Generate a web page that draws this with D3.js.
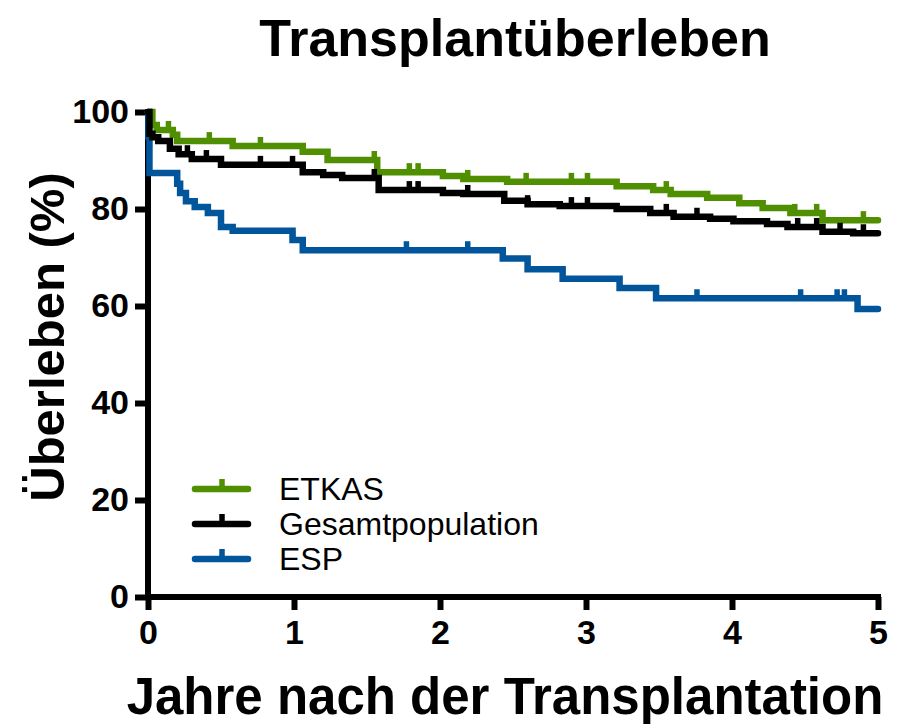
<!DOCTYPE html>
<html>
<head>
<meta charset="utf-8">
<script src="https://cdn.jsdelivr.net/npm/d3@7"></script>
<style>
  body { margin: 0; background: #fff; }
  svg { font-family: "Liberation Sans", Arial, sans-serif; }
</style>
</head>
<body>
<div id="chart"></div>
<script>
// Kaplan-Meier steps (years, survival %)
const etkasTime = [0, 0.03, 0.06, 0.17, 0.2, 0.58, 1.06, 1.23, 1.57, 2.02, 2.16, 2.46, 3.21, 3.46, 3.58, 3.83, 4.05, 4.21, 4.40, 4.62, 5.0];
const etkasSurv = [100, 97.3, 96.3, 95.3, 94.0, 93.0, 91.8, 90.1, 87.6, 86.8, 86.2, 85.6, 84.7, 83.9, 83.1, 82.3, 81.2, 80.2, 79.2, 77.7, 77.7];
const etkasCens = [0.14, 0.42, 0.77, 1.55, 1.79, 1.85, 2.19, 2.59, 2.90, 3.01, 3.55, 4.43, 4.58, 4.90];

const totalTime = [0, 0.01, 0.03, 0.07, 0.15, 0.21, 0.3, 0.5, 1.06, 1.20, 1.33, 1.58, 2.02, 2.16, 2.44, 2.60, 2.82, 3.21, 3.44, 3.60, 3.85, 4.01, 4.24, 4.38, 4.62, 4.83, 5.0];
const totalSurv = [100, 95.5, 94.8, 94.0, 92.4, 91.3, 90.3, 89.1, 87.6, 87.0, 86.4, 83.9, 83.3, 83.1, 81.7, 81.0, 80.6, 80.0, 79.2, 78.4, 78.0, 77.5, 76.9, 76.3, 75.3, 75.0, 75.0];
const totalCens = [0.27, 0.40, 0.77, 0.99, 1.55, 1.79, 1.85, 2.19, 2.60, 2.90, 3.01, 3.55, 3.76, 4.45, 4.58, 4.74, 4.90];

const espTime = [0, 0.003, 0.01, 0.2, 0.22, 0.26, 0.32, 0.41, 0.5, 0.58, 0.99, 1.06, 2.43, 2.60, 2.84, 3.23, 3.48, 4.86, 5.0];
const espSurv = [100, 95, 87.4, 85.2, 83.3, 81.6, 80.4, 79.2, 76.3, 75.5, 73.6, 71.5, 69.8, 67.6, 65.6, 63.7, 61.6, 59.4, 59.4];
const espCens = [0.99, 1.77, 2.19, 3.76, 4.47, 4.72, 4.77];

const seriesNames = ["ETKAS", "Gesamtpopulation", "ESP"];
const xTicks = [0, 1, 2, 3, 4, 5];
const yTicks = [0, 20, 40, 60, 80, 100];

const colors = { "ETKAS": "#4f8f00", "Gesamtpopulation": "#000000", "ESP": "#00559b" };

const series = [
  { name: "ETKAS", time: etkasTime, surv: etkasSurv, cens: etkasCens },
  { name: "ESP", time: espTime, surv: espSurv, cens: espCens },
  { name: "Gesamtpopulation", time: totalTime, surv: totalSurv, cens: totalCens }
];

const W = 907, H = 724;
const margin = { top: 112, right: 29, bottom: 127, left: 148 };

const svg = d3.select("#chart").append("svg")
  .attr("width", W)
  .attr("height", H);

const x = d3.scaleLinear().domain([0, 5]).range([margin.left, W - margin.right]);
const y = d3.scaleLinear().domain([0, 100]).range([H - margin.bottom, margin.top]);

// Axes
const axisW = 6;
const xAxis = svg.append("g")
  .attr("transform", `translate(0,${y(0)})`)
  .call(d3.axisBottom(x).tickValues(xTicks).tickSize(13).tickPadding(10).tickFormat(d3.format("d")));
const yAxis = svg.append("g")
  .attr("transform", `translate(${x(0)},0)`)
  .call(d3.axisLeft(y).tickValues(yTicks).tickSize(13).tickPadding(6).tickFormat(d3.format("d")));

[xAxis, yAxis].forEach(g => {
  g.select(".domain").attr("stroke", "#000").attr("stroke-width", axisW)
    .attr("stroke-linecap", "square");
  g.selectAll(".tick line").attr("stroke", "#000").attr("stroke-width", axisW);
  g.selectAll(".tick text")
    .attr("fill", "#000")
    .style("font-size", "34px")
    .style("font-weight", "bold");
});
// domain path has outer ticks at 0 by default; remove them
xAxis.select(".domain").attr("d", `M${x(0)},0H${x(5)}`);
yAxis.select(".domain").attr("d", `M0,${y(0)}V${y(100)}`);
xAxis.selectAll(".tick text").attr("dy", "0.7em");

// Curves
const line = d3.line()
  .x(d => x(d[0]))
  .y(d => y(d[1]))
  .curve(d3.curveStepAfter);

const survAt = (s, t) => {
  let v = s.surv[0];
  for (let i = 0; i < s.time.length; i++) if (s.time[i] <= t) v = s.surv[i];
  return v;
};

series.forEach(s => {
  const pts = s.time.map((t, i) => [t, s.surv[i]]);
  svg.append("path")
    .datum(pts)
    .attr("fill", "none")
    .attr("stroke", colors[s.name])
    .attr("stroke-width", 6.5)
    .attr("stroke-linejoin", "miter")
    .attr("stroke-linecap", "round")
    .attr("d", line);

  svg.selectAll(null)
    .data(s.cens)
    .enter()
    .append("line")
    .attr("x1", d => x(d))
    .attr("x2", d => x(d))
    .attr("y1", d => y(survAt(s, d)))
    .attr("y2", d => y(survAt(s, d)) - 9)
    .attr("stroke", colors[s.name])
    .attr("stroke-width", 5.5);
});

// Legend
const legend = svg.append("g").attr("transform", "translate(195,489)");
seriesNames.forEach((name, i) => {
  const g = legend.append("g").attr("transform", `translate(0,${i * 35})`);
  g.append("line")
    .attr("x1", 0).attr("x2", 53).attr("y1", 0).attr("y2", 0)
    .attr("stroke", colors[name]).attr("stroke-width", 6.5).attr("stroke-linecap", "round");
  g.append("line")
    .attr("x1", 27).attr("x2", 27).attr("y1", 0).attr("y2", -10)
    .attr("stroke", colors[name]).attr("stroke-width", 5.5);
  g.append("text")
    .attr("x", 84).attr("y", 11)
    .style("font-size", "32px")
    .text(name);
});

// Title and axis labels
svg.append("text")
  .attr("x", 515).attr("y", 56)
  .attr("text-anchor", "middle")
  .style("font-size", "52px")
  .style("font-weight", "bold")
  .text("Transplantüberleben");

svg.append("text")
  .attr("transform", "translate(64,337) rotate(-90)")
  .attr("text-anchor", "middle")
  .style("font-size", "49px")
  .style("font-weight", "bold")
  .text("Überleben (%)");

svg.append("text")
  .attr("x", 505).attr("y", 714)
  .attr("text-anchor", "middle")
  .style("font-size", "51px")
  .style("font-weight", "bold")
  .text("Jahre nach der Transplantation");
</script>
</body>
</html>
